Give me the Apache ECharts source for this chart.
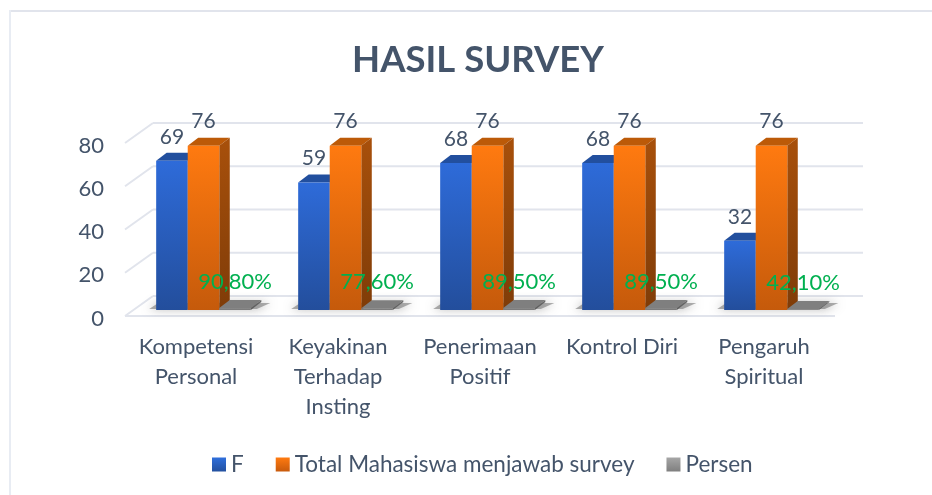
<!DOCTYPE html>
<html>
<head>
<meta charset="utf-8">
<title>Hasil Survey</title>
<script src="https://cdn.jsdelivr.net/npm/echarts@6/dist/echarts.min.js"></script>
<style>
html, body { margin: 0; padding: 0; background: #fff; }
#chart { width: 932px; height: 495px; }
</style>
</head>
<body>
<div id="chart"></div>
<script>
var categories = ['Kompetensi\nPersonal', 'Keyakinan\nTerhadap\nInsting', 'Penerimaan\nPositif', 'Kontrol Diri', 'Pengaruh\nSpiritual']
var fValues = [69, 59, 68, 68, 32]
var totalValues = [76, 76, 76, 76, 76]
var persenValues = [0.908, 0.776, 0.895, 0.895, 0.421]
var persenLabels = ['90,80%', '77,60%', '89,50%', '89,50%', '42,10%']
var yTicks = [0, 20, 40, 60, 80]

var FONT = 'Lato, "Noto Sans", sans-serif'
var TEXT = '#44546A'
var WALL = '#E1E4EC'

// bars stand a bit behind the front edge of the floor
var FLOOR_DX = 28
var FLOOR_DY = 20
var BAR_DX = 7.5
var BAR_DY = 6
var SIDE_DX = 10.5
var SIDE_DY = 8

function vGrad(top, bottom) {
  return new echarts.graphic.LinearGradient(0, 0, 0, 1, [
    { offset: 0, color: top },
    { offset: 1, color: bottom }
  ])
}

function renderWall(params, api) {
  var v = api.value(0)
  var y = api.coord([0, v])[1]
  var cs = params.coordSys
  var style = { stroke: WALL, lineWidth: 2 }
  var children = [
    { type: 'line', shape: { x1: cs.x, y1: y, x2: cs.x + FLOOR_DX, y2: y - FLOOR_DY }, style: style },
    { type: 'line', shape: { x1: cs.x + FLOOR_DX, y1: y - FLOOR_DY, x2: cs.x + cs.width + FLOOR_DX, y2: y - FLOOR_DY }, style: style }
  ]
  if (v === 0) {
    children.push({ type: 'line', shape: { x1: cs.x, y1: y, x2: cs.x + cs.width, y2: y }, style: style })
  }
  return { type: 'group', children: children }
}

// soft shadow under each group of bars
function renderShadow(params, api) {
  var band = api.size([1, 0])[0]
  var w = band / 4.5
  var base = api.coord([api.value(0), 0])
  var x = base[0] - w * 1.5 + BAR_DX
  var yb = base[1] - BAR_DY
  return {
    type: 'polygon',
    shape: { points: [[x - 7, yb - 1], [x + w * 3 + 6, yb - 1], [x + w * 3 + SIDE_DX + 9, yb - SIDE_DY + 1], [x + 2, yb - SIDE_DY + 1]] },
    style: { fill: 'rgba(120,120,120,0.6)', shadowBlur: 10, shadowColor: 'rgba(90,90,90,0.85)' }
  }
}

// slot: 0, 1 or 2 inside the category band
function makeBarRenderer(slot, colors, labels, labelColor, labelOffset, fontSize) {
  return function (params, api) {
    var idx = api.value(0)
    var val = api.value(1)
    var band = api.size([1, 0])[0]
    var w = band / 4.5
    var base = api.coord([idx, 0])
    var top = api.coord([idx, val])
    var x = base[0] - w * 1.5 + BAR_DX + slot * w
    var yb = base[1] - BAR_DY
    var yt = top[1] - BAR_DY
    return {
      type: 'group',
      children: [
        {
          type: 'polygon',
          shape: { points: [[x, yt], [x + SIDE_DX, yt - SIDE_DY], [x + w + SIDE_DX, yt - SIDE_DY], [x + w, yt]] },
          style: { fill: colors.top },
          z2: 1
        },
        {
          type: 'polygon',
          shape: { points: [[x + w, yt], [x + w + SIDE_DX, yt - SIDE_DY], [x + w + SIDE_DX, yb - SIDE_DY], [x + w, yb]] },
          style: { fill: vGrad(colors.side1, colors.side2) },
          z2: 1
        },
        {
          type: 'rect',
          shape: { x: x, y: yt, width: w, height: yb - yt },
          style: { fill: vGrad(colors.front1, colors.front2) },
          z2: 2
        },
        {
          type: 'text',
          style: {
            text: labels[idx],
            x: x + w / 2,
            y: yt + labelOffset,
            align: 'center',
            verticalAlign: 'middle',
            fill: labelColor,
            font: fontSize + 'px ' + FONT
          },
          z2: 5
        }
      ]
    }
  }
}

function rows(values) {
  return values.map(function (v, i) { return [i, v] })
}

var chart = echarts.init(document.getElementById('chart'), null, { renderer: 'canvas' })
chart.setOption({
  animation: false,
  backgroundColor: '#fff',
  graphic: [
    {
      type: 'line',
      shape: { x1: 9, y1: 11, x2: 932, y2: 11 },
      style: { stroke: WALL, lineWidth: 2 },
      silent: true
    },
    {
      type: 'line',
      shape: { x1: 10, y1: 10, x2: 10, y2: 495 },
      style: { stroke: '#E8ECF3', lineWidth: 2 },
      silent: true
    }
  ],
  title: {
    text: 'HASIL SURVEY',
    left: 473,
    top: 37,
    textAlign: 'center',
    textStyle: { color: TEXT, fontFamily: FONT, fontWeight: 'bold', fontSize: 36.5 }
  },
  legend: {
    data: ['F', 'Total Mahasiswa menjawab survey', 'Persen'],
    left: 207,
    top: 448,
    icon: 'rect',
    itemWidth: 14,
    itemHeight: 14,
    itemGap: 32,
    selectedMode: false,
    textStyle: { color: TEXT, fontFamily: FONT, fontSize: 22.5 }
  },
  grid: { left: 125, top: 143, width: 710, height: 173 },
  xAxis: {
    type: 'category',
    data: categories,
    axisLine: { show: false },
    axisTick: { show: false },
    axisLabel: { color: TEXT, fontFamily: FONT, fontSize: 22, lineHeight: 30, margin: 16, interval: 0 }
  },
  yAxis: {
    type: 'value',
    min: 0,
    max: 80,
    interval: 20,
    axisLine: { show: false },
    axisTick: { show: false },
    splitLine: { show: false },
    axisLabel: {
      margin: 21,
      formatter: '{t|{value}}',
      rich: {
        t: { color: TEXT, fontFamily: FONT, fontSize: 22, padding: [5, 0, 0, 0] }
      }
    }
  },
  series: [
    {
      type: 'custom',
      name: 'wall',
      renderItem: renderWall,
      encode: { x: 1, y: 0 },
      data: yTicks.map(function (t) { return [t, 0] }),
      silent: true,
      z: 1
    },
    {
      type: 'custom',
      name: 'shadow',
      renderItem: renderShadow,
      encode: { x: 0 },
      data: categories.map(function (c, i) { return [i] }),
      silent: true,
      z: 2
    },
    {
      type: 'custom',
      name: 'F',
      itemStyle: { color: vGrad('#2F6FDC', '#23509F') },
      renderItem: makeBarRenderer(0, { top: '#224F9E', side1: '#224F9E', side2: '#1C407E', front1: '#2E6BD9', front2: '#234E9C' }, fValues, TEXT, -24, 21),
      encode: { x: 0, y: 1 },
      data: rows(fValues),
      z: 3
    },
    {
      type: 'custom',
      name: 'Total Mahasiswa menjawab survey',
      itemStyle: { color: vGrad('#FF7A10', '#C85A0C') },
      renderItem: makeBarRenderer(1, { top: '#BC5A08', side1: '#A8500B', side2: '#7F3C08', front1: '#FF7A10', front2: '#C55A0B' }, totalValues, TEXT, -24, 21),
      encode: { x: 0, y: 1 },
      data: rows(totalValues),
      z: 4
    },
    {
      type: 'custom',
      name: 'Persen',
      itemStyle: { color: vGrad('#A6A6A6', '#7F7F7F') },
      renderItem: makeBarRenderer(2, { top: '#7F7F7F', side1: '#6A6A6A', side2: '#5C5C5C', front1: '#8A8A8A', front2: '#777777' }, persenLabels, '#00B050', -26, 22),
      encode: { x: 0, y: 1 },
      data: rows(persenValues),
      z: 5
    }
  ]
})
</script>
</body>
</html>
